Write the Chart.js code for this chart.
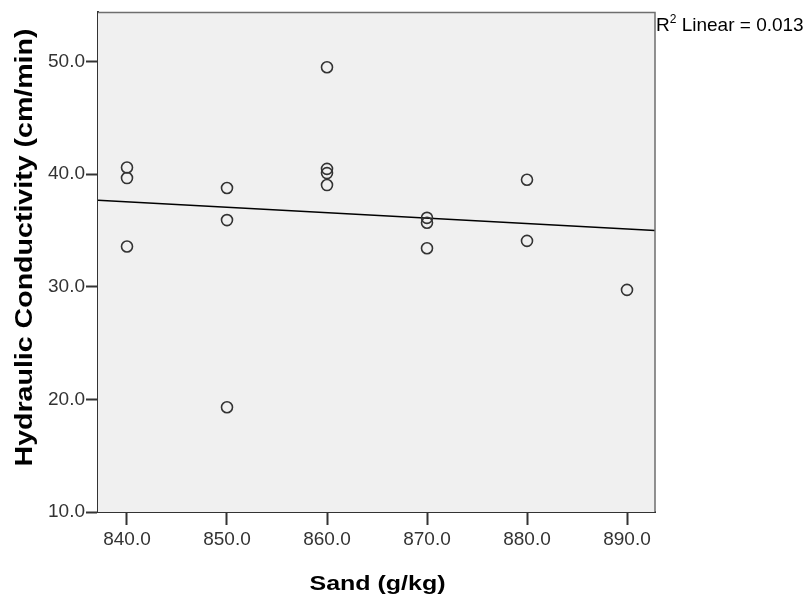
<!DOCTYPE html>
<html>
<head>
<meta charset="utf-8">
<script src="https://cdn.jsdelivr.net/npm/chart.js@4.4.1/dist/chart.umd.min.js"></script>
<style>
  html, body { margin: 0; padding: 0; background: #fff; }
  #chart { display: block; }
</style>
</head>
<body>
<canvas id="chart" width="804" height="601"></canvas>
<script>
// values
const sand = [840, 840, 840, 850, 850, 850, 860, 860, 860, 860, 870, 870, 870, 880, 880, 890];
const conductivity = [40.59, 39.65, 33.57, 38.77, 35.92, 19.3, 49.49, 40.47, 40.09, 39.03, 36.12, 35.68, 33.42, 39.5, 34.07, 29.72];
const fitX = [837.1, 892.8];
const fitY = [37.68, 35.0];
const xTicks = [840, 850, 860, 870, 880, 890];
const yTicks = [10, 20, 30, 40, 50];
const xTitle = "Sand (g/kg)";
const yTitle = "Hydraulic Conductivity (cm/min)";
const rSquared = "0.013";

const points = sand.map((s, i) => ({ x: s, y: conductivity[i] }));
const fitPoints = fitX.map((x, i) => ({ x: x, y: fitY[i] }));

// grey plot box, frame, axis titles and the R2 note
const decor = {
    id: "decor",
    beforeDatasetsDraw(chart) {
        const { ctx, chartArea: a } = chart;
        ctx.save();
        ctx.fillStyle = "#f0f0f0";
        ctx.fillRect(a.left, a.top, a.right - a.left, a.bottom - a.top);
        ctx.restore();
    },
    afterDraw(chart) {
        const { ctx, chartArea: a } = chart;
        ctx.save();
        ctx.strokeStyle = "#6e6e6e";
        ctx.lineWidth = 1.5;
        ctx.beginPath();
        ctx.moveTo(a.left, a.top);
        ctx.lineTo(a.right, a.top);
        ctx.lineTo(a.right, a.bottom);
        ctx.stroke();

        ctx.fillStyle = "#000";
        ctx.font = "bold 21px 'Liberation Sans', Arial, sans-serif";
        ctx.textAlign = "center";
        ctx.textBaseline = "alphabetic";
        ctx.save();
        ctx.translate((a.left + a.right) / 2 + 1, 589.5);
        ctx.scale(1.19, 1);
        ctx.fillText(xTitle, 0, 0);
        ctx.restore();

        ctx.font = "bold 24px 'Liberation Sans', Arial, sans-serif";
        ctx.save();
        ctx.translate(32, 247.5);
        ctx.rotate(-Math.PI / 2);
        ctx.scale(1.19, 1);
        ctx.fillText(yTitle, 0, 0);
        ctx.restore();

        ctx.textAlign = "left";
        ctx.font = "19px 'Liberation Sans', Arial, sans-serif";
        let x = a.right + 1;
        ctx.fillText("R", x, 31);
        x += ctx.measureText("R").width;
        ctx.font = "12px 'Liberation Sans', Arial, sans-serif";
        ctx.fillText("2", x, 23);
        x += ctx.measureText("2").width;
        ctx.font = "19px 'Liberation Sans', Arial, sans-serif";
        ctx.fillText(" Linear = " + rSquared, x, 31);
        ctx.restore();
    }
};

const ctx = document.getElementById("chart").getContext("2d");
const myChart = new Chart(ctx, {
    type: "scatter",
    data: {
        datasets: [{
            label: "Hydraulic Conductivity",
            data: points,
            pointStyle: "circle",
            pointRadius: 5.5,
            pointHoverRadius: 5.5,
            borderColor: "#333",
            borderWidth: 1.6,
            backgroundColor: "rgba(0,0,0,0)"
        }, {
            type: "line",
            label: "Linear fit",
            data: fitPoints,
            borderColor: "#000",
            borderWidth: 1.5,
            pointRadius: 0,
            fill: false
        }]
    },
    options: {
        responsive: false,
        animation: false,
        layout: { padding: { top: 8, right: 149, left: 0, bottom: 0 } },
        plugins: {
            legend: { display: false },
            tooltip: { enabled: false }
        },
        scales: {
            x: {
                type: "linear",
                min: 837.1,
                max: 892.8,
                afterFit: s => { s.height = 89; },
                afterBuildTicks: s => { s.ticks = xTicks.map(v => ({ value: v })); },
                grid: { drawOnChartArea: false, drawTicks: true, tickLength: 13, tickWidth: 2, tickColor: "#333" },
                border: { display: true, color: "#333", width: 2 },
                ticks: {
                    padding: 3,
                    color: "#333",
                    font: { family: "'Liberation Sans', Arial, sans-serif", size: 19 },
                    callback: v => v.toFixed(1)
                }
            },
            y: {
                type: "linear",
                min: 10,
                max: 54.36,
                afterFit: s => { s.width = 98; },
                afterBuildTicks: s => { s.ticks = yTicks.map(v => ({ value: v })); },
                grid: { drawOnChartArea: false, drawTicks: true, tickLength: 12, tickWidth: 2, tickColor: "#333" },
                border: { display: true, color: "#333", width: 2 },
                ticks: {
                    padding: 1,
                    color: "#333",
                    font: { family: "'Liberation Sans', Arial, sans-serif", size: 19 },
                    callback: v => v.toFixed(1)
                }
            }
        }
    },
    plugins: [decor]
});
</script>
</body>
</html>
